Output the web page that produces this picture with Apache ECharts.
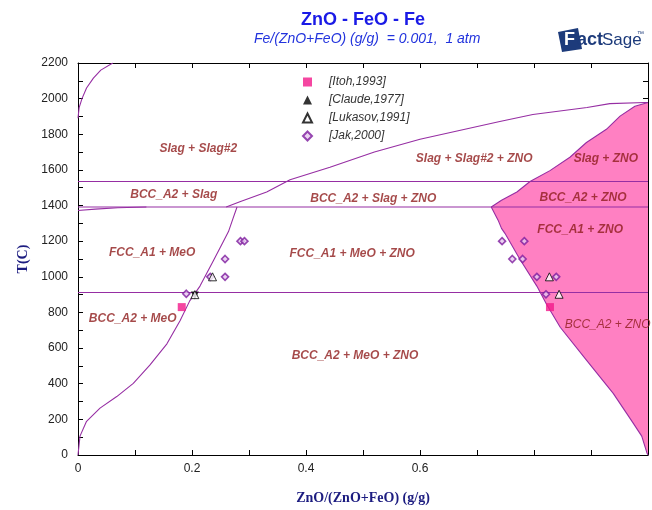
<!DOCTYPE html>
<html>
<head>
<meta charset="utf-8">
<script src="https://cdn.jsdelivr.net/npm/echarts@6/dist/echarts.min.js"></script>
<style>
  html, body { margin: 0; padding: 0; background: #ffffff; }
  #chart { width: 652px; height: 510px; }
</style>
</head>
<body>
<div id="chart"></div>
<script>
// ---- Phase boundaries, [ZnO/(ZnO+FeO), T(C)] ----
const liquidMiscibility = [[0, 1890], [0.002, 1950], [0.007, 2000], [0.015, 2060], [0.027, 2115], [0.04, 2160], [0.061, 2200]];
const feMelting = [[0, 1535], [1, 1535]];
const deltaGamma = [[0, 1392], [1, 1392]];
const deltaGammaLow = [[0, 1372], [0.03, 1380], [0.07, 1388], [0.12, 1392]];
const gammaAlpha = [[0, 912], [1, 912]];
const meoLimit = [[0, 0], [0.0035, 106], [0.015, 189], [0.0386, 263], [0.068, 328], [0.097, 402], [0.126, 504], [0.156, 624],
  [0.179, 754], [0.196, 865], [0.214, 948], [0.237, 1087], [0.255, 1198], [0.264, 1254], [0.272, 1328], [0.279, 1392]];
const slagZnoLimit = [[0.26, 1392], [0.284, 1421], [0.331, 1476], [0.372, 1545], [0.442, 1615], [0.52, 1700], [0.6, 1772],
  [0.74, 1872], [0.798, 1911], [0.893, 1950], [0.933, 1972], [0.995, 1978], [1, 1978]];
const znoUpper = [[1, 1978], [0.977, 1957], [0.951, 1902], [0.927, 1828], [0.892, 1754], [0.863, 1671], [0.828, 1596],
  [0.793, 1535], [0.77, 1476], [0.743, 1430], [0.725, 1392]];
const znoLower = [[0.725, 1392], [0.737, 1318], [0.743, 1272], [0.749, 1244], [0.775, 1100], [0.805, 948], [0.822, 846],
  [0.846, 717], [0.892, 532], [0.939, 346], [0.974, 179], [0.989, 106], [0.998, 13], [1, 0]];

// ---- Experimental points ----
const itoh1993 = [[0.182, 830], [0.828, 830]];
const claude1977 = [[0.205, 895]];
const lukasov1991 = [[0.205, 900], [0.236, 1000], [0.827, 1000], [0.844, 902]];
const jak2000 = [[0.19, 905], [0.232, 1000], [0.258, 1000], [0.258, 1100], [0.285, 1200], [0.292, 1200],
  [0.744, 1200], [0.783, 1200], [0.762, 1100], [0.78, 1100], [0.805, 1000], [0.839, 1000], [0.821, 902]];

// ---- Phase field names and their anchor points ----
const fieldNames = ['Slag + Slag#2', 'BCC_A2 + Slag', 'Slag + Slag#2 + ZNO', 'Slag + ZNO', 'BCC_A2 + Slag + ZNO',
  'BCC_A2 + ZNO', 'FCC_A1 + ZNO', 'FCC_A1 + MeO', 'FCC_A1 + MeO + ZNO', 'BCC_A2 + MeO', 'BCC_A2 + MeO + ZNO'];
const fieldAnchors = [[0.211, 1720], [0.168, 1462], [0.695, 1665], [0.926, 1665], [0.518, 1440],
  [0.886, 1445], [0.881, 1265], [0.13, 1137], [0.481, 1131], [0.096, 765], [0.486, 560]];
const edgeFieldName = 'BCC_A2 + ZNO';
const edgeFieldAnchor = [0.854, 732];

// ---- Axis tick labels ----
const xTickLabels = ['0', '0.2', '0.4', '0.6'];
const yTickLabels = ['0', '200', '400', '600', '800', '1000', '1200', '1400', '1600', '1800', '2000', '2200'];

const znoRegion = znoUpper.concat(znoLower.slice(1));

const lineColor = '#962ea3';
function boundary(data) {
  return {
    type: 'line', data: data, showSymbol: false, symbol: 'none', silent: true,
    lineStyle: { color: lineColor, width: 1.1 }, z: 3, animation: false
  };
}

const chart = echarts.init(document.getElementById('chart'), null, { renderer: 'canvas' });

const axisBase = {
  axisLine: { show: true, onZero: false, lineStyle: { color: '#000', width: 1 } },
  axisTick: { show: true, inside: true, length: 5, lineStyle: { color: '#000' } },
  splitLine: { show: false }
};

chart.setOption({
  backgroundColor: '#ffffff',
  animation: false,
  title: [
    { text: 'ZnO - FeO - Fe', left: 296, top: 6,
      textStyle: { fontFamily: 'Arial, Liberation Sans', fontWeight: 'bold', fontSize: 18, color: '#1a1ae6' } },
    { text: 'Fe/(ZnO+FeO) (g/g)  = 0.001,  1 atm', left: 249, top: 27,
      textStyle: { fontFamily: 'Arial, Liberation Sans', fontStyle: 'italic', fontWeight: 'normal', fontSize: 14, color: '#2233dd' } }
  ],
  grid: { left: 78, right: 4, top: 63, bottom: 51, containLabel: false },
  legend: {
    orient: 'vertical', left: 297, top: 71, itemWidth: 9, itemHeight: 9, itemGap: 6,
    selectedMode: false,
    textStyle: { fontFamily: 'Arial, Liberation Sans', fontStyle: 'italic', fontSize: 12, color: '#333', padding: [0, 0, 0, 12] },
    data: ['[Itoh,1993]', '[Claude,1977]', '[Lukasov,1991]', '[Jak,2000]']
  },
  xAxis: [
    Object.assign({}, axisBase, {
      type: 'value', min: 0, max: 1, interval: 0.1, position: 'bottom',
      axisLabel: {
        margin: 8, fontFamily: 'Arial, Liberation Sans', fontSize: 12, color: '#222', showMinLabel: true, showMaxLabel: true,
        formatter: function (v) {
          const i = Math.round(v * 5);
          return (Math.abs(v * 5 - i) < 1e-6 && i < xTickLabels.length) ? xTickLabels[i] : '';
        }
      },
      name: 'ZnO/(ZnO+FeO) (g/g)', nameLocation: 'middle', nameGap: 36,
      nameTextStyle: { fontFamily: 'Liberation Serif, Times New Roman', fontWeight: 'bold', fontSize: 14, color: '#1c1c80' }
    }),
    Object.assign({}, axisBase, {
      type: 'value', min: 0, max: 1, interval: 0.1, position: 'top', axisLabel: { show: false }
    })
  ],
  yAxis: [
    Object.assign({}, axisBase, {
      type: 'value', min: 0, max: 2200, interval: 100, position: 'left',
      axisLabel: {
        margin: 10, fontFamily: 'Arial, Liberation Sans', fontSize: 12, color: '#222', showMinLabel: true, showMaxLabel: true,
        formatter: function (v) {
          const i = Math.round(v / 200);
          return (Math.abs(v / 200 - i) < 1e-6) ? yTickLabels[i] : '';
        }
      },
      name: 'T(C)', nameLocation: 'middle', nameGap: 48, nameRotate: 90,
      nameTextStyle: { fontFamily: 'Liberation Serif, Times New Roman', fontWeight: 'bold', fontSize: 14, color: '#1c1c80' }
    }),
    Object.assign({}, axisBase, {
      type: 'value', min: 0, max: 2200, interval: 100, position: 'right', axisLabel: { show: false }
    })
  ],
  graphic: [
    { type: 'polygon', shape: { points: [[558, 32], [578, 28], [582, 49], [562, 52]] }, style: { fill: '#1d3b7b' }, z: 10 },
    { type: 'text', x: 564, y: 31, z: 11,
      style: { text: 'F', fontFamily: 'Liberation Sans Narrow, Arial', fontWeight: 'bold', fontSize: 18, fill: '#ffffff' } },
    { type: 'text', x: 577, y: 31, z: 11,
      style: { text: 'act', fontFamily: 'Liberation Sans Narrow, Arial', fontWeight: 'bold', fontSize: 18, fill: '#1d3b7b' } },
    { type: 'text', x: 602, y: 32, z: 11,
      style: { text: 'Sage', fontFamily: 'Liberation Sans Narrow, Arial', fontSize: 17, fill: '#1d3b7b' } },
    { type: 'text', x: 637, y: 31, z: 11,
      style: { text: '\u2122', fontFamily: 'Arial', fontSize: 7, fill: '#1d3b7b' } }
  ],
  series: [
    {
      type: 'custom', name: 'ZNO field', silent: true, z: 1, clip: true,
      data: znoRegion,
      renderItem: function (params, api) {
        if (params.dataIndex !== 0) return null;
        const pts = znoRegion.map(function (p) { return api.coord(p); });
        return { type: 'polygon', shape: { points: pts }, style: { fill: '#ff80c2', stroke: null } };
      }
    },
    boundary(liquidMiscibility),
    boundary(feMelting),
    boundary(deltaGamma),
    boundary(deltaGammaLow),
    boundary(gammaAlpha),
    boundary(meoLimit),
    boundary(slagZnoLimit),
    boundary(znoUpper),
    boundary(znoLower),
    {
      type: 'scatter', name: 'fields', silent: true, z: 6, symbolSize: 0,
      data: fieldNames.map(function (n, i) { return { name: n, value: fieldAnchors[i] }; }),
      label: { show: true, position: 'inside', formatter: '{b}', fontFamily: 'Arial, Liberation Sans',
        fontStyle: 'italic', fontWeight: 'bold', fontSize: 12, color: '#8e1b1b' }
    },
    {
      type: 'scatter', name: 'edge field', silent: true, z: 6, symbolSize: 0,
      data: [{ name: edgeFieldName, value: edgeFieldAnchor }],
      label: { show: true, position: 'right', distance: 0, formatter: '{b}', fontFamily: 'Arial, Liberation Sans',
        fontStyle: 'italic', fontWeight: 'normal', fontSize: 12, color: '#8e1b1b' }
    },
    {
      type: 'scatter', name: '[Itoh,1993]', symbol: 'rect', symbolSize: 8, z: 8, data: itoh1993,
      itemStyle: { color: '#f2188a' }
    },
    {
      type: 'scatter', name: '[Claude,1977]', symbol: 'triangle', symbolRotate: 180, symbolSize: 8, z: 8, data: claude1977,
      itemStyle: { color: '#000' }
    },
    {
      type: 'scatter', name: '[Lukasov,1991]', symbol: 'triangle', symbolSize: 8, z: 9, data: lukasov1991,
      itemStyle: { color: '#fff', borderColor: '#000', borderWidth: 1 }
    },
    {
      type: 'scatter', name: '[Jak,2000]', symbol: 'diamond', symbolSize: 7, z: 7, data: jak2000,
      itemStyle: { color: '#e6c8ef', borderColor: '#7d1c9e', borderWidth: 1.6 }
    }
  ]
});
</script>
</body>
</html>
